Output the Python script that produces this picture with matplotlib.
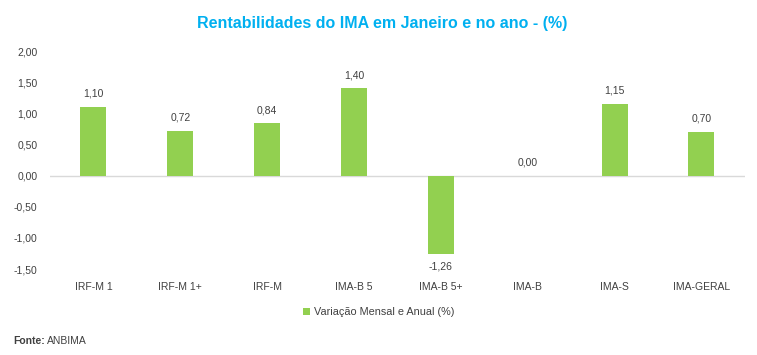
import matplotlib.pyplot as plt

# data
categories = ['IRF-M 1', 'IRF-M 1+', 'IRF-M', 'IMA-B 5', 'IMA-B 5+', 'IMA-B', 'IMA-S', 'IMA-GERAL']
values = [1.10, 0.72, 0.84, 1.40, -1.26, 0.00, 1.15, 0.70]
yticks = [-1.5, -1.0, -0.5, 0.0, 0.5, 1.0, 1.5, 2.0]

plt.rcParams['font.family'] = ['Liberation Sans', 'DejaVu Sans']

fig = plt.figure(figsize=(7.57, 3.55), dpi=100)
ax = fig.add_axes([0.066, 0.242, 0.918, 0.614])

x = range(len(categories))
bars = ax.bar(x, values, width=0.3, color='#92D050', label='Variação Mensal e Anual (%)', zorder=3)

ax.set_xlim(-0.5, len(categories) - 0.5)
ax.set_ylim(-1.5, 2.0)
ax.set_yticks(yticks)
ax.set_yticklabels([f'{v:.2f}'.replace('.', ',') for v in yticks], fontsize=7.5, color='#404040')
ax.set_xticks(list(x))
ax.set_xticklabels(categories, fontsize=7.5, color='#404040')
ax.tick_params(axis='both', length=0)
ax.tick_params(axis='y', pad=9)
ax.tick_params(axis='x', pad=9)

for s in ax.spines.values():
    s.set_visible(False)
ax.axhline(0, color='#D9D9D9', linewidth=1, zorder=2)

# value labels
for xi, v in zip(x, values):
    txt = f'{v:.2f}'.replace('.', ',')
    if v >= 0:
        ax.annotate(txt, (xi, v), xytext=(0, 6), textcoords='offset points',
                    ha='center', va='bottom', fontsize=7.5, color='#404040')
    else:
        ax.annotate(txt, (xi, v), xytext=(0, -5), textcoords='offset points',
                    ha='center', va='top', fontsize=7.5, color='#404040')

fig.text(0.505, 0.935, 'Rentabilidades do IMA em Janeiro e no ano - (%)', ha='center', va='center',
         fontsize=11.5, fontweight='bold', color='#00B0F0')

fig.legend(handles=[bars], loc='center', bbox_to_anchor=(0.5, 0.12), frameon=False,
           fontsize=7.8, handlelength=0.7, handleheight=0.7, handletextpad=0.3,
           labelcolor='#404040')

fig.text(0.017, 0.04, 'Fonte:', fontsize=7.5, fontweight='bold', color='#404040', va='center')
fig.text(0.062, 0.04, 'ANBIMA', fontsize=7.5, color='#404040', va='center')

fig.savefig('out.png', dpi=100)
